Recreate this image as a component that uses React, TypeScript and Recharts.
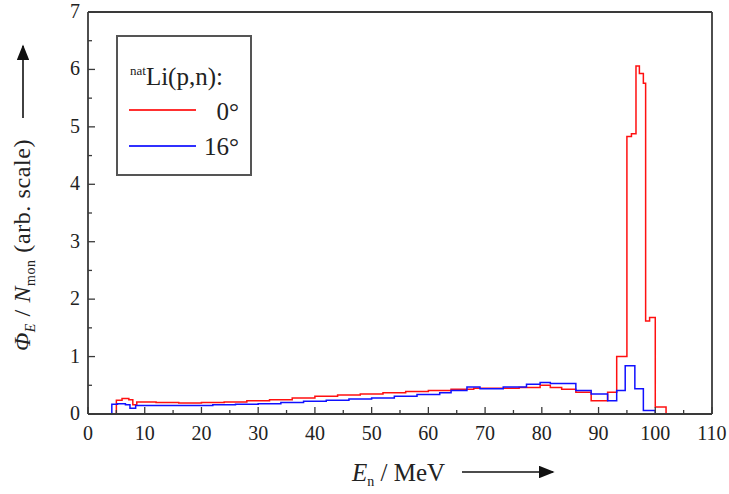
import { Line, LineChart, XAxis, YAxis } from "recharts";

// neutron energy bin edges (MeV) and fluence per monitor count
const redEnergy = [
	0, 5.0, 6.0, 7.2, 7.9, 8.6, 12, 16, 20, 24, 28, 32, 36, 40, 44, 48, 52, 56,
	60, 64, 68, 72, 76, 79.7, 81.5, 83.5, 86.0, 88.7, 91.6, 93.2, 95.0, 95.8,
	96.6, 97.2, 97.9, 98.3, 99.0, 100, 101.9,
];
const redFlux = [
	0, 0.24, 0.27, 0.25, 0.16, 0.21, 0.2, 0.19, 0.2, 0.21, 0.23, 0.25, 0.28,
	0.31, 0.33, 0.35, 0.37, 0.39, 0.41, 0.43, 0.45, 0.45, 0.46, 0.5, 0.46, 0.43,
	0.38, 0.23, 0.38, 1.0, 4.83, 4.88, 6.06, 5.93, 5.76, 1.62, 1.68, 0.12, 0,
];

const blueEnergy = [
	0, 4.2, 5.2, 6.6, 7.4, 8.4, 10, 14, 18, 22, 26, 30, 34, 38, 42, 46, 50, 54,
	58, 62, 64, 66.8, 69.1, 73.2, 77.3, 79.7, 81.5, 86.0, 88.7, 91.6, 93.2, 94.7,
	96.4, 97.9, 100,
];
const blueFlux = [
	0, 0.17, 0.18, 0.16, 0.1, 0.15, 0.15, 0.15, 0.15, 0.16, 0.17, 0.18, 0.2,
	0.22, 0.24, 0.26, 0.28, 0.31, 0.34, 0.37, 0.41, 0.47, 0.44, 0.47, 0.52, 0.55,
	0.53, 0.41, 0.35, 0.23, 0.41, 0.84, 0.44, 0.06, 0,
];

const xTicks = [
	0, 5, 10, 15, 20, 25, 30, 35, 40, 45, 50, 55, 60, 65, 70, 75, 80, 85, 90, 95,
	100, 105, 110,
];
const yTicks = [
	0, 0.5, 1, 1.5, 2, 2.5, 3, 3.5, 4, 4.5, 5, 5.5, 6, 6.5, 7,
];

const redData = redEnergy.map((e, i) => ({ e, v: redFlux[i] }));
const blueData = blueEnergy.map((e, i) => ({ e, v: blueFlux[i] }));

const FONT = "Liberation Serif, Times New Roman, serif";
const INK = "#222";
const FRAME = "#3a3a3a";

const isMajorX = (v: number) => v % 10 === 0;
const isMajorY = (v: number) => Number.isInteger(v);

// ticks point into the plot, labels sit outside
const BottomTick = ({ x, y, payload }: any) => {
	const major = isMajorX(payload.value);
	return (
		<g>
			<line x1={x} x2={x} y1={y} y2={y - (major ? 7 : 4)} stroke={FRAME} strokeWidth={1.3} />
			{major && (
				<text x={x} y={y + 26} textAnchor="middle" fontFamily={FONT} fontSize={20} fill={INK}>
					{payload.value}
				</text>
			)}
		</g>
	);
};

const TopTick = ({ x, y, payload }: any) => (
	<line x1={x} x2={x} y1={y} y2={y + (isMajorX(payload.value) ? 7 : 4)} stroke={FRAME} strokeWidth={1.3} />
);

const LeftTick = ({ x, y, payload }: any) => {
	const major = isMajorY(payload.value);
	return (
		<g>
			<line x1={x} x2={x + (major ? 7 : 4)} y1={y} y2={y} stroke={FRAME} strokeWidth={1.3} />
			{major && (
				<text x={x - 8} y={y + 6} textAnchor="end" fontFamily={FONT} fontSize={20} fill={INK}>
					{payload.value}
				</text>
			)}
		</g>
	);
};

const RightTick = ({ x, y, payload }: any) => (
	<line x1={x} x2={x - (isMajorY(payload.value) ? 7 : 4)} y1={y} y2={y} stroke={FRAME} strokeWidth={1.3} />
);

const axisLine = { stroke: FRAME, strokeWidth: 1.8 };

const LegendBox = () => (
	<div
		style={{
			position: "absolute",
			left: 116,
			top: 35,
			width: 132,
			height: 137,
			border: "2px solid #555",
			background: "#fff",
		}}
	>
		<svg width={132} height={137} style={{ fontFamily: FONT, fill: INK }}>
			<text x={12} y={48} fontSize={25}>
				<tspan fontSize={13} dy={-10}>nat</tspan>
				<tspan dy={10}>Li(p,n):</tspan>
			</text>
			<line x1={11} x2={78} y1={73} y2={73} stroke="#ff3030" strokeWidth={2} />
			<text x={121} y={83} fontSize={25} textAnchor="end">0°</text>
			<line x1={11} x2={78} y1={109} y2={109} stroke="#3030ff" strokeWidth={2} />
			<text x={121} y={118} fontSize={25} textAnchor="end">16°</text>
		</svg>
	</div>
);

const AxisTitles = () => (
	<svg
		width={729}
		height={494}
		style={{ position: "absolute", left: 0, top: 0, pointerEvents: "none" }}
	>
		<defs>
			<marker id="head" markerWidth={10} markerHeight={8} refX={9} refY={4} orient="auto">
				<path d="M0,0 L10,4 L0,8 Z" fill="#111" />
			</marker>
		</defs>
		<text
			transform="translate(30 245) rotate(-90)"
			textAnchor="middle"
			fontFamily={FONT}
			fontSize={24}
			letterSpacing={0.6}
			fill={INK}
		>
			<tspan fontStyle="italic">Φ</tspan>
			<tspan fontStyle="italic" fontSize={14} dy={5}>E</tspan>
			<tspan dy={-5}> / </tspan>
			<tspan fontStyle="italic">N</tspan>
			<tspan fontSize={14} dy={5}>mon</tspan>
			<tspan dy={-5}> (arb. scale)</tspan>
		</text>
		<line x1={23} x2={23} y1={118} y2={46} stroke="#111" strokeWidth={1.6} markerEnd="url(#head)" />
		<text x={352} y={481} fontFamily={FONT} fontSize={25} fill={INK}>
			<tspan fontStyle="italic">E</tspan>
			<tspan fontSize={14} dy={5}>n</tspan>
			<tspan dy={-5}> / MeV</tspan>
		</text>
		<line x1={462} x2={553} y1={472} y2={472} stroke="#111" strokeWidth={1.6} markerEnd="url(#head)" />
	</svg>
);

export default function App() {
	return (
		<div style={{ position: "absolute", left: 0, top: 0, width: 729, height: 494, background: "#fff" }}>
			<LineChart
				width={729}
				height={494}
				margin={{ top: 11, right: 16, bottom: 50, left: 58 }}
			>
				<XAxis
					xAxisId="bottom"
					dataKey="e"
					type="number"
					domain={[0, 110]}
					ticks={xTicks}
					interval={0}
					height={30}
					tickSize={0}
					tickMargin={0}
					axisLine={axisLine}
					tickLine={false}
					tick={(p: any) => <BottomTick {...p} />}
					allowDataOverflow
				/>
				<XAxis
					xAxisId="top"
					orientation="top"
					dataKey="e"
					type="number"
					domain={[0, 110]}
					ticks={xTicks}
					interval={0}
					height={1}
					tickSize={0}
					tickMargin={0}
					axisLine={axisLine}
					tickLine={false}
					tick={(p: any) => <TopTick {...p} />}
				/>
				<YAxis
					yAxisId="left"
					type="number"
					domain={[0, 7]}
					ticks={yTicks}
					interval={0}
					width={30}
					tickSize={0}
					tickMargin={0}
					axisLine={axisLine}
					tickLine={false}
					tick={(p: any) => <LeftTick {...p} />}
				/>
				<YAxis
					yAxisId="right"
					orientation="right"
					type="number"
					domain={[0, 7]}
					ticks={yTicks}
					interval={0}
					width={1}
					tickSize={0}
					tickMargin={0}
					axisLine={axisLine}
					tickLine={false}
					tick={(p: any) => <RightTick {...p} />}
				/>
				<Line
					xAxisId="bottom"
					yAxisId="left"
					data={redData}
					dataKey="v"
					type="stepAfter"
					stroke="#ff1010"
					strokeWidth={1.5}
					dot={false}
					isAnimationActive={false}
				/>
				<Line
					xAxisId="bottom"
					yAxisId="left"
					data={blueData}
					dataKey="v"
					type="stepAfter"
					stroke="#1010ff"
					strokeWidth={1.5}
					dot={false}
					isAnimationActive={false}
				/>
			</LineChart>
			<LegendBox />
			<AxisTitles />
		</div>
	);
}
